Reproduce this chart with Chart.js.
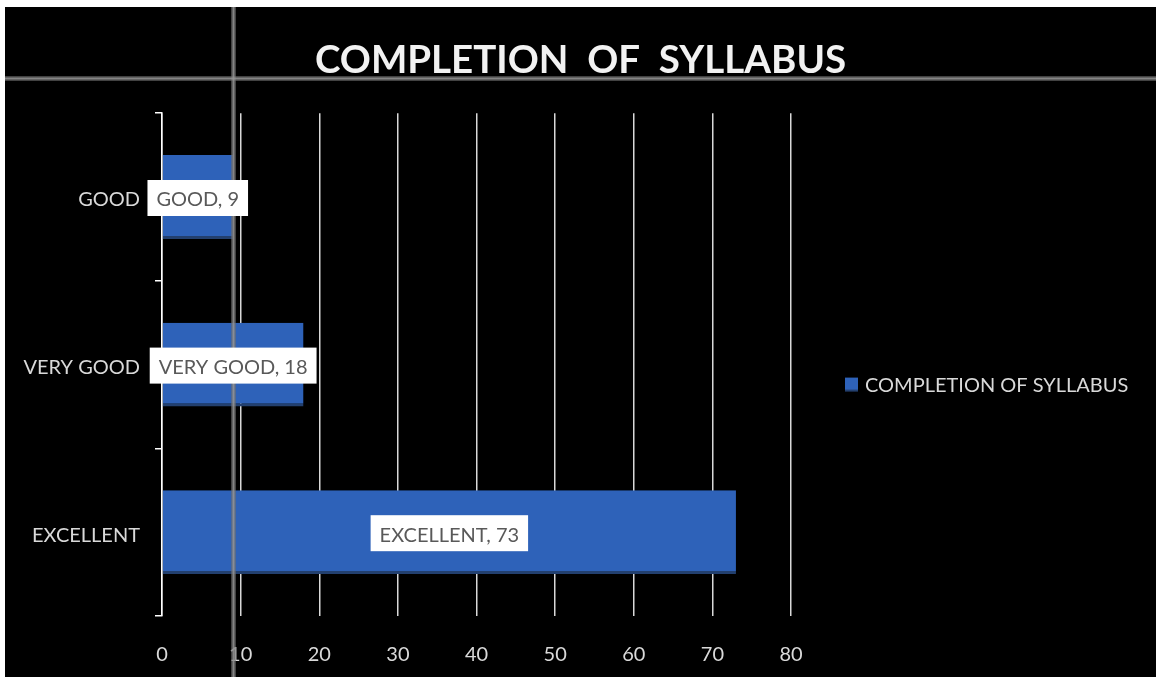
<!DOCTYPE html>
<html>
<head>
<meta charset="utf-8">
<script src="https://cdn.jsdelivr.net/npm/chart.js@4"></script>
<style>
html,body{margin:0;padding:0;background:#fff;}
#wrap{position:absolute;left:5px;top:7px;width:1151px;height:670px;background:#000;}
</style>
</head>
<body>
<div id="wrap"><canvas id="chart"></canvas></div>
<script>
const categories=['GOOD','VERY GOOD','EXCELLENT'];
const values=[9,18,73];
const seriesName='COMPLETION OF SYLLABUS';
const xTicks=[0,10,20,30,40,50,60,70,80];

const FONT='Lato, "Open Sans", sans-serif';

// white boxes with "CATEGORY, value" centred on each bar, plus legend on the right
const barLabels={
  id:'barLabels',
  afterDatasetsDraw(chart){
    const ctx=chart.ctx;
    // screen-capture guide lines seen in the source picture
    ctx.save();
    ctx.fillStyle='rgba(110,110,110,0.6)';
    ctx.fillRect(0,69,chart.width,5);
    ctx.fillRect(226,0,5,chart.height);
    ctx.fillStyle='rgba(150,150,150,0.8)';
    ctx.fillRect(0,70.5,chart.width,2);
    ctx.fillRect(227.5,0,2,chart.height);
    ctx.restore();

    const meta=chart.getDatasetMeta(0);
    ctx.save();
    ctx.font='20px '+FONT;
    ctx.textAlign='center';
    ctx.textBaseline='middle';
    meta.data.forEach((bar,i)=>{
      const txt=categories[i]+', '+values[i];
      const w=ctx.measureText(txt).width+18;
      const h=36;
      const cx=(bar.base+bar.x)/2;
      const cy=bar.y;
      ctx.fillStyle='#ffffff';
      ctx.fillRect(cx-w/2,cy-h/2+1,w,h);
      ctx.fillStyle='#595959';
      ctx.fillText(txt,cx,cy+3);
    });
    ctx.restore();

    // legend
    const ds=chart.data.datasets[0];
    const lx=chart.chartArea.right+54, ly=(chart.chartArea.top+chart.chartArea.bottom)/2+20;
    ctx.save();
    ctx.fillStyle=ds.backgroundColor;
    ctx.fillRect(lx,ly-7,13,13);
    ctx.fillStyle='#23406f';
    ctx.fillRect(lx,ly+5,13,2);
    ctx.font='20px '+FONT;
    ctx.fillStyle='#d9d9d9';
    ctx.textAlign='left';
    ctx.textBaseline='middle';
    ctx.fillText(ds.label,lx+20,ly+1);
    ctx.restore();
  }
};

new Chart(document.getElementById('chart'),{
  type:'bar',
  data:{
    labels:categories,
    datasets:[{
      label:seriesName,
      data:values,
      backgroundColor:'#2e62b9',
      borderColor:'#23406f',
      borderWidth:{top:0,left:0,right:0,bottom:3},
      borderSkipped:false,
      categoryPercentage:1,
      barPercentage:0.5
    }]
  },
  options:{
    indexAxis:'y',
    responsive:true,
    maintainAspectRatio:false,
    animation:false,
    layout:{padding:{left:0,right:0,top:0,bottom:-17}},
    scales:{
      x:{
        min:0,max:80,
        afterBuildTicks(s){s.ticks=xTicks.map(v=>({value:v}));},
        grid:{color:'#d9d9d9',lineWidth:1.5,drawTicks:false},
        border:{display:false},
        ticks:{color:'#d9d9d9',font:{family:FONT,size:20},padding:27}
      },
      y:{
        afterFit(s){s.width=157;},
        grid:{offset:true,drawOnChartArea:false,drawTicks:true,tickLength:7,color:'#ffffff',lineWidth:1.5},
        border:{display:true,color:'#ffffff',width:1.5},
        ticks:{color:'#d9d9d9',font:{family:FONT,size:20},padding:15,labelOffset:3}
      },
      // empty right-hand axis that only reserves room for the legend
      legendSpace:{
        type:'linear',
        position:'right',
        afterFit(s){s.width=365;},
        grid:{display:false},
        border:{display:false},
        ticks:{display:false}
      }
    },
    plugins:{
      title:{
        display:true,
        text:'COMPLETION  OF  SYLLABUS',
        color:'#f2f2f2',
        font:{family:FONT,size:38.5,weight:'bold'},
        padding:{top:30,bottom:30}
      },
      legend:{display:false},
      tooltip:{enabled:false}
    }
  },
  plugins:[barLabels]
});
</script>
</body>
</html>
